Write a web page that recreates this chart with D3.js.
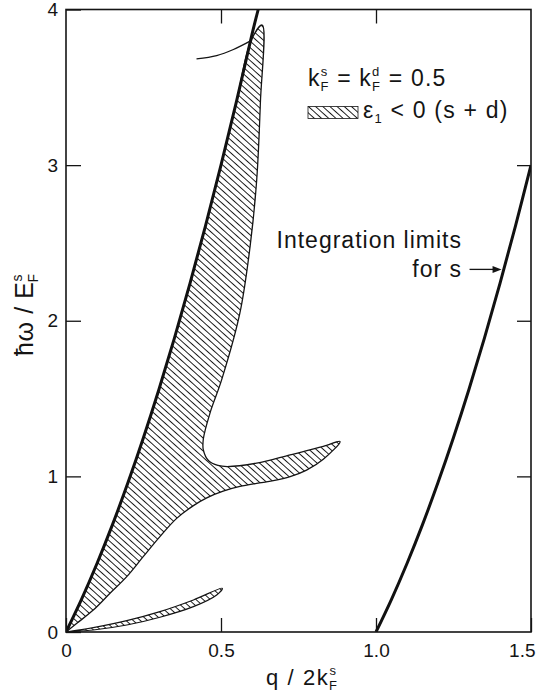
<!DOCTYPE html>
<html>
<head>
<meta charset="utf-8">
<script src="https://cdn.jsdelivr.net/npm/d3@7"></script>
<style>
  body { margin: 0; background: #fff; }
  svg { display: block; font-family: "Liberation Sans", Arial, Helvetica, sans-serif; }
  text { fill: #141414; }
</style>
</head>
<body>
<svg></svg>
<script>
// values
let xTicks = [0, 0.5, 1.0, 1.5],
    yTicks = [0, 1, 2, 3, 4];

// upper limit (thick line from the origin)
let upperQ = [0, 0.05, 0.1, 0.15, 0.2, 0.25, 0.3, 0.35, 0.4, 0.45, 0.5, 0.55, 0.6, 0.62],
    upperW = [0, 0.21, 0.44, 0.69, 0.96, 1.25, 1.56, 1.89, 2.24, 2.61, 3.0, 3.41, 3.84, 4.0];

// lower limit for s (thick line from q = 1)
let lowerQ = [1.0, 1.05, 1.1, 1.15, 1.2, 1.25, 1.3, 1.35, 1.4, 1.45, 1.5],
    lowerW = [0, 0.21, 0.44, 0.69, 0.96, 1.25, 1.56, 1.89, 2.24, 2.61, 3.0];

// big hatched region, eps1 < 0
let regionQ = [0, 0.05, 0.1, 0.15, 0.2, 0.25, 0.3, 0.35, 0.4, 0.45, 0.5, 0.55, 0.597,
               0.633, 0.627, 0.615, 0.594, 0.561, 0.502, 0.465, 0.443, 0.443, 0.46, 0.49, 0.52,
               0.615, 0.723, 0.83, 0.884,
               0.83, 0.776, 0.723, 0.669, 0.615, 0.561, 0.507, 0.454, 0.411, 0.357, 0.303,
               0.249, 0.196, 0.142, 0.088, 0.035, 0],
    regionW = [0, 0.21, 0.44, 0.69, 0.96, 1.25, 1.56, 1.89, 2.24, 2.61, 3.0, 3.41, 3.80,
               3.90, 3.40, 2.90, 2.48, 2.05, 1.62, 1.41, 1.24, 1.17, 1.10, 1.07, 1.063,
               1.085, 1.138, 1.192, 1.224,
               1.11, 1.04, 0.998, 0.972, 0.955, 0.935, 0.905, 0.862, 0.812, 0.73, 0.613,
               0.484, 0.356, 0.249, 0.141, 0.056, 0];

// small hatched lens near the origin
let lensQ = [0, 0.088, 0.196, 0.303, 0.411, 0.504, 0.486, 0.411, 0.303, 0.196, 0.088, 0],
    lensW = [0, 0.028, 0.073, 0.131, 0.206, 0.281, 0.238, 0.163, 0.095, 0.045, 0.013, 0];

// thin arc near the top
let arcQ = [0.421, 0.486, 0.54, 0.6],
    arcW = [3.683, 3.704, 3.743, 3.803];

let width   = 537,
    height  = 692,
    plotL   = 66,
    plotR   = 531,
    plotT   = 9.5,
    plotB   = 632;

let xScale = d3.scaleLinear().domain([0, 1.5]).range([plotL, plotR]),
    yScale = d3.scaleLinear().domain([0, 4]).range([plotB, plotT]);

let svg = d3.select('svg')
            .attr('width', width)
            .attr('height', height);

let defs = svg.append('defs');

// hatch pattern, lines running down to the right
let pat = defs.append('pattern')
        .attr('id', 'hatch')
        .attr('patternUnits', 'userSpaceOnUse')
        .attr('width', 4.8)
        .attr('height', 10)
        .attr('patternTransform', 'rotate(-48)');
pat.append('line')
    .attr('x1', 2.4).attr('y1', -1)
    .attr('x2', 2.4).attr('y2', 11)
    .attr('stroke', '#111')
    .attr('stroke-width', 0.95);

defs.append('clipPath').attr('id', 'plot')
    .append('rect')
        .attr('x', plotL).attr('y', plotT)
        .attr('width', plotR - plotL).attr('height', plotB - plotT);

let pts = (qs, ws) => qs.map((q, i) => [q, ws[i]]);

let smooth = d3.line()
    .x(d => xScale(d[0]))
    .y(d => yScale(d[1]))
    .curve(d3.curveCatmullRom.alpha(0.5));

let g = svg.append('g').attr('clip-path', 'url(#plot)');

// hatched regions
g.append('path')
    .attr('d', smooth(pts(regionQ, regionW)) + 'Z')
    .attr('fill', 'url(#hatch)')
    .attr('stroke', '#141414')
    .attr('stroke-width', 1.3)
    .attr('stroke-linejoin', 'miter');

g.append('path')
    .attr('d', smooth(pts(lensQ, lensW)) + 'Z')
    .attr('fill', 'url(#hatch)')
    .attr('stroke', '#141414')
    .attr('stroke-width', 1.2);

// thin arc
g.append('path')
    .attr('d', smooth(pts(arcQ, arcW)))
    .attr('fill', 'none')
    .attr('stroke', '#141414')
    .attr('stroke-width', 1.3);

// integration limits
[pts(upperQ, upperW), pts(lowerQ, lowerW)].forEach(p => {
    g.append('path')
        .attr('d', smooth(p))
        .attr('fill', 'none')
        .attr('stroke', '#111')
        .attr('stroke-width', 3);
});

// frame
svg.append('rect')
    .attr('x', plotL).attr('y', plotT)
    .attr('width', plotR - plotL).attr('height', plotB - plotT)
    .attr('fill', 'none')
    .attr('stroke', '#141414')
    .attr('stroke-width', 1.6);

// axes, ticks pointing in on all sides
let xAxis = svg.append('g')
    .attr('transform', `translate(0, ${plotB})`)
    .call(d3.axisBottom(xScale)
            .tickValues(xTicks)
            .tickSize(-14)
            .tickSizeOuter(0)
            .tickPadding(12)
            .tickFormat(d => d === 0 ? '0' : d3.format('.1f')(d)));

let yAxis = svg.append('g')
    .attr('transform', `translate(${plotL}, 0)`)
    .call(d3.axisLeft(yScale)
            .tickValues(yTicks)
            .tickSize(-15)
            .tickSizeOuter(0)
            .tickPadding(8)
            .tickFormat(d3.format('d')));

svg.append('g')
    .attr('transform', `translate(0, ${plotT})`)
    .call(d3.axisTop(xScale).tickValues([0.5, 1.0]).tickSize(-14).tickSizeOuter(0).tickFormat(''));

svg.append('g')
    .attr('transform', `translate(${plotR}, 0)`)
    .call(d3.axisRight(yScale).tickValues([1, 2, 3]).tickSize(-14).tickSizeOuter(0).tickFormat(''));

svg.selectAll('.domain').remove();
svg.selectAll('.tick line').attr('stroke', '#141414').attr('stroke-width', 1.3);
svg.selectAll('.tick text')
    .attr('font-size', 19)
    .attr('font-family', '"Liberation Sans", Arial, sans-serif')
    .attr('fill', '#141414');

// last x label pulled in so it stays on the page
xAxis.selectAll('.tick text')
    .filter(d => d === 1.5)
    .attr('text-anchor', 'end')
    .attr('dx', 4);

// x label
let xl = svg.append('text')
    .attr('x', 266)
    .attr('y', 685)
    .attr('font-size', 22)
    .attr('letter-spacing', 1.6);
xl.append('tspan').text('q / 2k');
xl.append('tspan').attr('font-size', 13).attr('dy', -10).attr('letter-spacing', 0).text('s');
xl.append('tspan').attr('font-size', 13).attr('dx', -7).attr('dy', 15).attr('letter-spacing', 0).text('F');

// y label
let yl = svg.append('text')
    .attr('transform', 'translate(33, 356) rotate(-90)')
    .attr('font-size', 25)
    .attr('letter-spacing', 0.6);
yl.append('tspan').text('ħω / E');
yl.append('tspan').attr('font-size', 14).attr('dy', -11).attr('letter-spacing', 0).text('s');
yl.append('tspan').attr('font-size', 14).attr('dx', -8).attr('dy', 16).attr('letter-spacing', 0).text('F');

// legend
let kf = svg.append('text')
    .attr('x', 308)
    .attr('y', 86)
    .attr('font-size', 23)
    .attr('letter-spacing', 1.2);
kf.append('tspan').text('k');
kf.append('tspan').attr('font-size', 13).attr('dy', -10).text('s');
kf.append('tspan').attr('font-size', 13).attr('dx', -8).attr('dy', 15).text('F');
kf.append('tspan').attr('dy', -5).text(' =  k');
kf.append('tspan').attr('font-size', 13).attr('dy', -10).text('d');
kf.append('tspan').attr('font-size', 13).attr('dx', -8.5).attr('dy', 15).text('F');
kf.append('tspan').attr('dy', -5).text(' =  0.5');

svg.append('rect')
    .attr('x', 308).attr('y', 106.5)
    .attr('width', 50).attr('height', 12)
    .attr('fill', 'url(#hatch)')
    .attr('stroke', '#141414')
    .attr('stroke-width', 0.8);

let eps = svg.append('text')
    .attr('x', 363)
    .attr('y', 118)
    .attr('font-size', 23)
    .attr('letter-spacing', 1.2);
eps.append('tspan').text('ε');
eps.append('tspan').attr('font-size', 13).attr('dy', 5).text('1');
eps.append('tspan').attr('dy', -5).text(' < 0 (s + d)');

// annotation
svg.append('text')
    .attr('x', 462)
    .attr('y', 248)
    .attr('text-anchor', 'end')
    .attr('font-size', 23)
    .attr('letter-spacing', 1)
    .text('Integration limits');

svg.append('text')
    .attr('x', 462)
    .attr('y', 277)
    .attr('text-anchor', 'end')
    .attr('font-size', 23)
    .attr('letter-spacing', 1)
    .text('for s');

let ax = xScale(1.405), ay = yScale(2.33);
svg.append('line')
    .attr('x1', ax - 32).attr('y1', ay)
    .attr('x2', ax - 4).attr('y2', ay)
    .attr('stroke', '#141414')
    .attr('stroke-width', 1.3);
svg.append('path')
    .attr('d', `M${ax},${ay} L${ax - 9},${ay - 3.5} L${ax - 9},${ay + 3.5} Z`)
    .attr('fill', '#141414');
</script>
</body>
</html>
